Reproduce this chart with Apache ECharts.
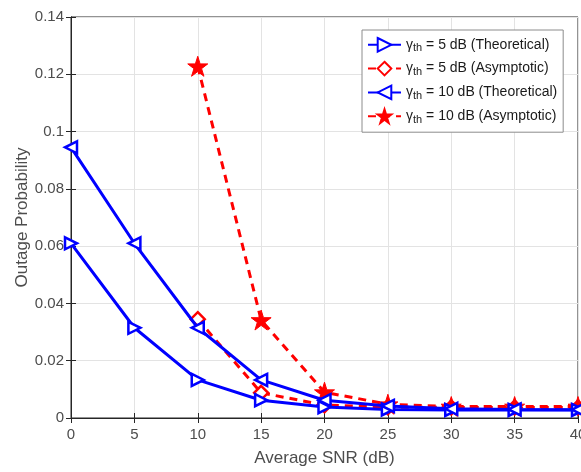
<!DOCTYPE html>
<html>
<head>
<meta charset="utf-8">
<script src="https://cdn.jsdelivr.net/npm/echarts@6/dist/echarts.min.js"></script>
<style>
  html, body { margin: 0; padding: 0; background: #fff; }
  #chart { width: 581px; height: 472px; }
</style>
</head>
<body>
<div id="chart"></div>
<script>
// x values (Average SNR, dB)
const snr = [0, 5, 10, 15, 20, 25, 30, 35, 40];
const xTicks = [0, 5, 10, 15, 20, 25, 30, 35, 40];
const yTicks = [0, 0.02, 0.04, 0.06, 0.08, 0.1, 0.12, 0.14];

const theo5 = [0.061, 0.0315, 0.0133, 0.0062, 0.0038, 0.003, 0.0028, 0.0028, 0.0028];
const asym5 = [null, null, 0.0345, 0.0088, 0.0045, 0.0038, 0.0037, 0.0037, 0.0037];
const theo10 = [0.0945, 0.061, 0.0315, 0.0133, 0.0062, 0.0042, 0.0032, 0.003, 0.0029];
const asym10 = [null, null, 0.1228, 0.0342, 0.009, 0.0048, 0.004, 0.004, 0.004];

const names = [
  'γth = 5 dB (Theoretical)',
  'γth = 5 dB (Asymptotic)',
  'γth = 10 dB (Theoretical)',
  'γth = 10 dB (Asymptotic)'
];

const triRight = 'path://M0,0 L10,5 L0,10 Z';
const triLeft = 'path://M10,0 L0,5 L10,10 Z';
const diamond = 'path://M5,0 L10,5 L5,10 L0,5 Z';
const star = 'path://M10,0 L12.245,6.910 L19.511,6.910 L13.633,11.180 L15.878,18.090 L10,13.82 L4.122,18.090 L6.367,11.180 L0.489,6.910 L7.755,6.910 Z';

const pairs = arr => snr.map((x, i) => [x, arr[i]]);

const chart = echarts.init(document.getElementById('chart'));

const axisColor = '#262626';
const labelColor = '#4d4d4d';
const font = 'Liberation Sans, Arial, sans-serif';

function blueLine(name, data, sym) {
  return {
    name, type: 'line', data: pairs(data),
    symbol: sym, symbolSize: 12,
    lineStyle: { color: '#0000ff', width: 3 },
    itemStyle: { color: '#fff', borderColor: '#0000ff', borderWidth: 2.5 },
    z: 3
  };
}
function redLine(name, data, sym, size, filled) {
  return {
    name, type: 'line', data: pairs(data),
    symbol: sym, symbolSize: size,
    lineStyle: { color: '#ff0000', width: 3, type: [8, 6] },
    itemStyle: filled
      ? { color: '#ff0000', borderColor: '#ff0000', borderWidth: 1 }
      : { color: '#fff', borderColor: '#ff0000', borderWidth: 2.5 },
    z: 2
  };
}

chart.setOption({
  animation: false,
  textStyle: { fontFamily: font },
  grid: { left: 71, right: 3, top: 17, bottom: 54, outerBoundsMode: 'none',
    show: true, borderColor: axisColor, borderWidth: 1 },
  legend: {
    orient: 'vertical',
    left: 362, top: 30,
    padding: [7, 6, 7, 5],
    itemGap: 7,
    itemWidth: 33, itemHeight: 17,
    backgroundColor: '#fff',
    borderColor: '#8c8c8c', borderWidth: 1,
    data: names,
    formatter: n => {
      const rest = n.replace('γth', '');
      return '{g|γ}{s|th}{t|' + rest + '}';
    },
    textStyle: {
      color: '#1a1a1a', fontSize: 14,
      rich: {
        g: { fontSize: 14, color: '#1a1a1a' },
        s: { fontSize: 11, color: '#1a1a1a', padding: [7, 0, 0, 0] },
        t: { fontSize: 14, color: '#1a1a1a' }
      }
    }
  },
  xAxis: [{
    type: 'value', min: 0, max: 40, interval: 5,
    name: 'Average SNR (dB)', nameLocation: 'middle', nameGap: 32, nameMoveOverlap: false,
    nameTextStyle: { color: labelColor, fontSize: 17 },
    axisLine: { lineStyle: { color: axisColor } },
    axisTick: { inside: true, length: 5, lineStyle: { color: axisColor } },
    axisLabel: { color: labelColor, fontSize: 15, margin: 9,
      customValues: xTicks, formatter: v => String(v) },
    splitLine: { show: true, lineStyle: { color: '#e3e3e3' } }
  }, {
    type: 'value', min: 0, max: 40, interval: 5, position: 'top',
    axisLine: { show: true, lineStyle: { color: axisColor } },
    axisTick: { inside: true, length: 5, lineStyle: { color: axisColor } },
    axisLabel: { show: false }, splitLine: { show: false }
  }],
  yAxis: [{
    type: 'value', min: 0, max: 0.14, interval: 0.02,
    name: 'Outage Probability', nameLocation: 'middle', nameGap: 40, nameMoveOverlap: false,
    nameTextStyle: { color: labelColor, fontSize: 17 },
    axisLine: { show: true, lineStyle: { color: axisColor } },
    axisTick: { show: true, inside: true, length: 5, lineStyle: { color: axisColor } },
    axisLabel: { color: labelColor, fontSize: 15, margin: 7,
      formatter: v => { const t = yTicks.find(y => Math.abs(y - v) < 1e-9); return String(t === undefined ? v : t); } },
    splitLine: { show: true, lineStyle: { color: '#e3e3e3' } }
  }, {
    type: 'value', min: 0, max: 0.14, interval: 0.02, position: 'right',
    axisLine: { show: true, lineStyle: { color: axisColor } },
    axisTick: { show: true, inside: true, length: 5, lineStyle: { color: axisColor } },
    axisLabel: { show: false }, splitLine: { show: false }
  }],
  series: [
    blueLine(names[0], theo5, triRight),
    redLine(names[1], asym5, diamond, 14, false),
    blueLine(names[2], theo10, triLeft),
    redLine(names[3], asym10, star, 20, true)
  ]
});
</script>
</body>
</html>
